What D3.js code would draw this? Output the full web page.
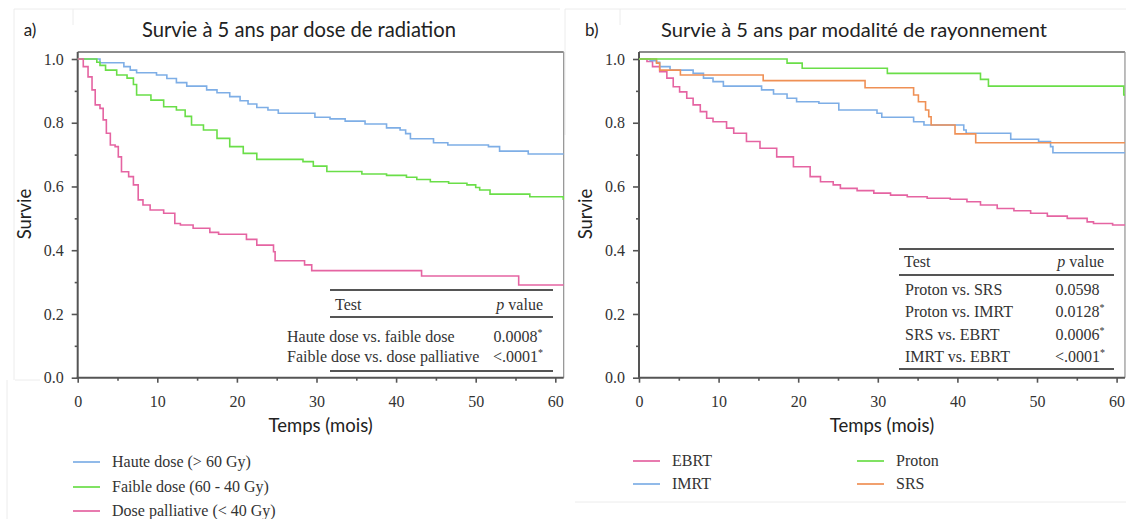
<!DOCTYPE html>
<html>
<head>
<meta charset="utf-8">
<script src="https://cdnjs.cloudflare.com/ajax/libs/d3/7.8.5/d3.min.js"></script>
<style>
  html, body { margin: 0; padding: 0; background: #fff; }
  svg { display: block; }
  .serif { font-family: "Liberation Serif", "DejaVu Serif", serif; fill: #333; }
  .sans { font-family: Lato, "Open Sans", sans-serif; fill: #222; }
  .axis text { font-family: "Liberation Serif", "DejaVu Serif", serif; font-size: 16px; fill: #333; }
</style>
</head>
<body>
<div id="chart"></div>
<script>
// ---- data (months, survival) ----
// panel a : by radiation dose
var hauteT = [0, 2.8, 5.8, 6.6, 7.4, 9.9, 11.2, 12.4, 13.7, 16.2, 17.5, 19.1, 20.4, 21.4, 22.5, 23.9, 25.2, 29.8, 31.7, 33.6, 36.1, 38.8, 40.5, 41.2, 41.8, 44.7, 46.5, 51.6, 53.0, 56.6];
var hauteS = [1.0, 0.988, 0.976, 0.965, 0.957, 0.950, 0.939, 0.926, 0.915, 0.903, 0.894, 0.882, 0.869, 0.859, 0.848, 0.840, 0.830, 0.817, 0.812, 0.805, 0.796, 0.784, 0.777, 0.766, 0.750, 0.737, 0.730, 0.725, 0.711, 0.702];

var faibleT = [0, 2.4, 2.8, 3.5, 4.9, 6.2, 7.0, 7.4, 9.2, 10.8, 12.4, 13.5, 14.3, 15.8, 17.5, 19.1, 20.8, 22.5, 28.3, 29.6, 31.3, 35.7, 38.8, 41.3, 42.6, 44.3, 46.6, 48.9, 50.0, 50.5, 51.8, 56.8, 61.0];
var faibleS = [1.0, 0.99, 0.98, 0.965, 0.95, 0.94, 0.92, 0.887, 0.871, 0.85, 0.84, 0.82, 0.793, 0.777, 0.751, 0.725, 0.704, 0.685, 0.678, 0.664, 0.647, 0.639, 0.635, 0.629, 0.622, 0.615, 0.61, 0.605, 0.597, 0.589, 0.576, 0.568, 0.56];

var palliT = [0, 0.7, 1.3, 1.8, 2.2, 2.8, 3.2, 3.6, 4.1, 4.7, 5.1, 5.5, 6.4, 7.0, 7.6, 8.2, 9.1, 10.8, 12.2, 12.9, 14.5, 16.6, 17.7, 21.2, 22.5, 24.6, 24.8, 28.5, 29.4, 43.2, 55.4];
var palliS = [1.0, 0.976, 0.944, 0.903, 0.856, 0.845, 0.809, 0.767, 0.73, 0.725, 0.693, 0.646, 0.631, 0.605, 0.558, 0.542, 0.526, 0.516, 0.484, 0.479, 0.469, 0.456, 0.45, 0.434, 0.416, 0.395, 0.367, 0.354, 0.336, 0.319, 0.291];

// panel b : by radiation modality
var ebrtT = [0, 1.0, 1.7, 2.6, 3.5, 4.3, 5.1, 6.0, 6.8, 7.7, 8.5, 9.3, 11.0, 11.9, 13.5, 15.2, 17.3, 19.4, 21.5, 22.8, 24.4, 25.3, 27.4, 29.5, 31.6, 33.7, 36.2, 39.1, 41.2, 42.9, 45.0, 47.1, 49.2, 51.3, 53.8, 56.3, 57.1, 59.5];
var ebrtS = [1.0, 0.992, 0.976, 0.96, 0.94, 0.913, 0.897, 0.877, 0.856, 0.835, 0.814, 0.803, 0.783, 0.767, 0.741, 0.72, 0.693, 0.662, 0.631, 0.615, 0.605, 0.594, 0.587, 0.579, 0.573, 0.568, 0.563, 0.56, 0.552, 0.542, 0.531, 0.524, 0.516, 0.507, 0.5, 0.489, 0.484, 0.479];

var imrtT = [0, 1.4, 2.2, 2.6, 3.9, 6.8, 8.1, 9.3, 10.6, 15.4, 16.9, 18.6, 19.8, 22.6, 25.1, 29.9, 30.5, 34.5, 35.8, 40.8, 41.1, 46.7, 50.2, 51.7, 52.0];
var imrtS = [1.0, 0.995, 0.99, 0.976, 0.965, 0.955, 0.94, 0.929, 0.915, 0.903, 0.89, 0.877, 0.866, 0.861, 0.84, 0.83, 0.817, 0.803, 0.793, 0.777, 0.767, 0.748, 0.741, 0.725, 0.706];

var protonT = [0, 18.6, 20.5, 31.2, 42.9, 43.9, 60.9];
var protonS = [1.0, 0.987, 0.971, 0.955, 0.936, 0.915, 0.887];

var srsT = [0, 2.2, 2.6, 5.2, 15.6, 28.4, 34.5, 35.1, 36.0, 36.4, 36.7, 39.7, 42.3];
var srsS = [1.0, 0.987, 0.965, 0.95, 0.932, 0.91, 0.887, 0.866, 0.84, 0.819, 0.793, 0.765, 0.737];

var xTicks = [0, 10, 20, 30, 40, 50, 60];
var xMinor = [5, 15, 25, 35, 45, 55];
var yTicks = [0, 0.2, 0.4, 0.6, 0.8, 1.0];
var yMinor = [0.1, 0.3, 0.5, 0.7, 0.9];

var testsA = ["Haute dose vs. faible dose", "Faible dose vs. dose palliative"];
var pvalsA = ["0.0008", "<.0001"];
var starsA = [true, true];
var testsB = ["Proton vs. SRS", "Proton vs. IMRT", "SRS vs. EBRT", "IMRT vs. EBRT"];
var pvalsB = ["0.0598", "0.0128", "0.0006", "<.0001"];
var starsB = [false, true, true, true];

var blue = "#7eaee6", green = "#6ade48", pink = "#e564a2", orange = "#ef9055";
var serifFont = "Liberation Serif, DejaVu Serif, serif";

var width = 1126, height = 519;
var svg = d3.select("#chart").append("svg")
    .attr("width", width)
    .attr("height", height);

// faint frames left over from the screenshot
var faint = svg.append("g").attr("stroke", "#ececec").attr("fill", "none");
faint.append("path").attr("d", "M14,9H560M14,9V380M73,9V25M7,380V519M15,380H40");
faint.append("path").attr("d", "M565,9H1126M565,9V135M620,9V25M575,502H1126");

function toPoints(ts, ss, xEnd) {
    var pts = ts.map(function (t, i) { return [t, ss[i]]; });
    pts.push([xEnd, ss[ss.length - 1]]);
    return pts;
}

function drawPanel(cfg) {
    var xEnd = 61.05;
    var x = d3.scaleLinear().domain([0, 60]).range([cfg.left, cfg.left + 477.6]);
    var y = d3.scaleLinear().domain([0, 1]).range([377.7, 59]);
    var right = x(xEnd), top = 52;

    var g = svg.append("g");

    // titles
    g.append("text").attr("class", "sans")
        .attr("x", cfg.left - 54).attr("y", 36)
        .style("font-size", "17px").text(cfg.tag);
    g.append("text").attr("class", "sans")
        .attr("x", cfg.titleX).attr("y", 37)
        .attr("text-anchor", "middle")
        .style("font-size", cfg.titleSize).text(cfg.title);

    // frame
    g.append("line").attr("x1", x(0)).attr("x2", right).attr("y1", top).attr("y2", top)
        .attr("stroke", "#666").attr("stroke-width", 1.6);
    g.append("line").attr("x1", right).attr("x2", right).attr("y1", top).attr("y2", y(0))
        .attr("stroke", "#999").attr("stroke-width", 1.3);

    // axes
    var yAxis = g.append("g").attr("class", "axis").attr("transform", "translate(" + x(0) + ",0)")
        .call(d3.axisLeft(y).tickValues(yTicks).tickFormat(d3.format(".1f"))
            .tickSize(6).tickPadding(8).tickSizeOuter(0));
    g.append("g").attr("transform", "translate(" + x(0) + ",0)")
        .call(d3.axisLeft(y).tickValues(yMinor).tickFormat("").tickSize(3).tickSizeOuter(0))
        .select(".domain").remove();
    var xAxis = g.append("g").attr("class", "axis").attr("transform", "translate(0," + y(0) + ")")
        .call(d3.axisBottom(x).tickValues(xTicks).tickSize(5).tickPadding(13).tickSizeOuter(0));
    g.append("g").attr("transform", "translate(0," + y(0) + ")")
        .call(d3.axisBottom(x).tickValues(xMinor).tickFormat("").tickSize(3).tickSizeOuter(0))
        .select(".domain").remove();
    yAxis.select(".domain").remove();
    xAxis.select(".domain").remove();
    [yAxis, xAxis].forEach(function (a) {
        a.attr("font-family", serifFont).attr("font-size", 16);
    });
    g.selectAll(".tick line").attr("stroke", "#555").attr("stroke-width", 1.6);
    g.selectAll(".axis .tick text").attr("fill", "#333");

    g.append("line").attr("x1", x(0)).attr("x2", x(0)).attr("y1", top).attr("y2", y(0) + 1)
        .attr("stroke", "#555").attr("stroke-width", 2);
    g.append("line").attr("x1", x(0) - 1).attr("x2", right).attr("y1", y(0)).attr("y2", y(0))
        .attr("stroke", "#555").attr("stroke-width", 2);

    // axis titles
    g.append("text").attr("class", "sans")
        .attr("transform", "translate(" + (cfg.left - 47) + ",214) rotate(-90)")
        .attr("text-anchor", "middle").style("font-size", "18.5px").text("Survie");
    g.append("text").attr("class", "sans")
        .attr("x", (x(0) + right) / 2).attr("y", 432)
        .attr("text-anchor", "middle").style("font-size", "18.5px").text("Temps (mois)");

    // survival curves
    var line = d3.line()
        .curve(d3.curveStepAfter)
        .x(function (d) { return x(d[0]); })
        .y(function (d) { return y(d[1]); });
    cfg.series.forEach(function (s) {
        g.append("path")
            .datum(toPoints(s.t, s.s, xEnd))
            .attr("d", line)
            .attr("fill", "none")
            .attr("stroke", s.color)
            .attr("stroke-width", 1.6);
    });

    // p-value table
    var tb = cfg.table;
    var tg = g.append("g");
    [tb.top, tb.mid, tb.bottom].forEach(function (ly) {
        tg.append("line").attr("x1", tb.x1).attr("x2", tb.x2).attr("y1", ly).attr("y2", ly)
            .attr("stroke", "#555").attr("stroke-width", 2);
    });
    tg.append("text").attr("class", "serif").attr("x", tb.x1 + 5).attr("y", tb.headY)
        .style("font-size", "16px").text("Test");
    var ph = tg.append("text").attr("class", "serif").attr("x", tb.x2 - 10).attr("y", tb.headY)
        .attr("text-anchor", "end").style("font-size", "16px");
    ph.append("tspan").style("font-style", "italic").text("p");
    ph.append("tspan").text(" value");
    tb.tests.forEach(function (name, i) {
        var ry = tb.rowY[i];
        tg.append("text").attr("class", "serif").attr("x", tb.nameX).attr("y", ry)
            .style("font-size", "16px").text(name);
        var v = tg.append("text").attr("class", "serif").attr("x", tb.valX).attr("y", ry)
            .attr("text-anchor", "middle").style("font-size", "16px");
        v.append("tspan").text(tb.pvals[i]);
        v.append("tspan").attr("dy", -6).style("font-size", "10px")
            .text(tb.stars[i] ? "*" : "\u2007");
    });

    // legend
    cfg.legend.forEach(function (l) {
        g.append("line").attr("x1", l.x).attr("x2", l.x + 27).attr("y1", l.y).attr("y2", l.y)
            .attr("stroke", l.color).attr("stroke-width", 2).attr("opacity", 0.85);
        g.append("text").attr("class", "serif").attr("x", l.x + 39).attr("y", l.y + 5)
            .style("font-size", "16px").text(l.label);
    });
}

drawPanel({
    left: 77.7,
    tag: "a)",
    title: "Survie à 5 ans par dose de radiation",
    titleX: 299,
    titleSize: "20.2px",
    series: [
        {t: hauteT, s: hauteS, color: blue},
        {t: faibleT, s: faibleS, color: green},
        {t: palliT, s: palliS, color: pink}
    ],
    table: {x1: 330, x2: 553, top: 290, mid: 317, bottom: 371, headY: 310,
        nameX: 287, valX: 518, rowY: [342, 362], tests: testsA, pvals: pvalsA, stars: starsA},
    legend: [
        {x: 73, y: 462, color: blue, label: "Haute dose (> 60 Gy)"},
        {x: 73, y: 487, color: green, label: "Faible dose (60 - 40 Gy)"},
        {x: 73, y: 511, color: pink, label: "Dose palliative (< 40 Gy)"}
    ]
});

drawPanel({
    left: 639,
    tag: "b)",
    title: "Survie à 5 ans par modalité de rayonnement",
    titleX: 854,
    titleSize: "20.1px",
    series: [
        {t: ebrtT, s: ebrtS, color: pink},
        {t: imrtT, s: imrtS, color: blue},
        {t: srsT, s: srsS, color: orange},
        {t: protonT, s: protonS, color: green}
    ],
    table: {x1: 899, x2: 1114, top: 249, mid: 275, bottom: 369, headY: 267,
        nameX: 905, valX: 1080, rowY: [295, 317, 340, 362], tests: testsB, pvals: pvalsB, stars: starsB},
    legend: [
        {x: 633, y: 461, color: pink, label: "EBRT"},
        {x: 633, y: 484, color: blue, label: "IMRT"},
        {x: 857, y: 461, color: green, label: "Proton"},
        {x: 857, y: 484, color: orange, label: "SRS"}
    ]
});
</script>
</body>
</html>
